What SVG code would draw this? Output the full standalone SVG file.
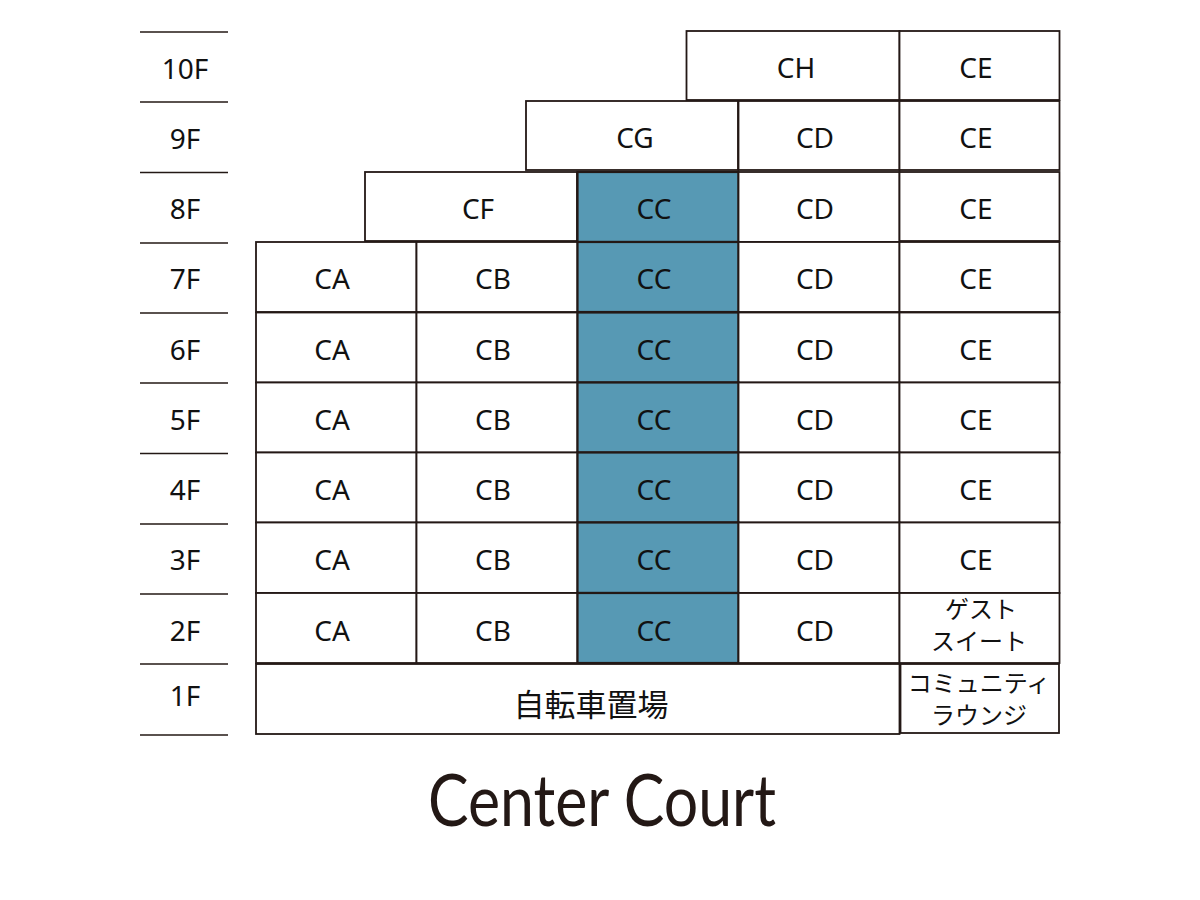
<svg xmlns="http://www.w3.org/2000/svg" width="1200" height="900" viewBox="0 0 1200 900">
<style>
.b{fill:#fff;stroke:#231815;stroke-width:1.8}
.c{fill:#5799b4;stroke:#231815;stroke-width:2.2}
.t{font-family:"Noto Sans","Noto Sans CJK JP",sans-serif;font-size:28px;fill:#111;text-anchor:middle}
.j{font-family:"Noto Sans CJK JP","Noto Sans",sans-serif;font-size:24px;fill:#111;text-anchor:middle}
.fl{stroke:#231815;stroke-width:1.5}
</style>
<rect width="1200" height="900" fill="#fff"/>
<g id="floors">
<g class="fl">
<line x1="140" y1="32" x2="228" y2="32"/><line x1="140" y1="102" x2="228" y2="102"/>
<line x1="140" y1="172.5" x2="228" y2="172.5"/><line x1="140" y1="243" x2="228" y2="243"/>
<line x1="140" y1="313" x2="228" y2="313"/><line x1="140" y1="383" x2="228" y2="383"/>
<line x1="140" y1="453.5" x2="228" y2="453.5"/><line x1="140" y1="524" x2="228" y2="524"/>
<line x1="140" y1="594" x2="228" y2="594"/><line x1="140" y1="664" x2="228" y2="664"/>
<line x1="140" y1="735" x2="228" y2="735"/>
</g>
<text class="t" x="185" y="79">10F</text>
<text class="t" x="185" y="149">9F</text>
<text class="t" x="185" y="219">8F</text>
<text class="t" x="185" y="289">7F</text>
<text class="t" x="185" y="360">6F</text>
<text class="t" x="185" y="430">5F</text>
<text class="t" x="185" y="500">4F</text>
<text class="t" x="185" y="570">3F</text>
<text class="t" x="185" y="641">2F</text>
<text class="t" x="185" y="706">1F</text>
</g>
<g id="f10">
<rect class="b" x="686.5" y="31" width="213" height="69"/><text class="t" x="796" y="78">CH</text>
<rect class="b" x="899.5" y="31" width="160" height="69"/><text class="t" x="976" y="78">CE</text>
</g>
<g id="f9">
<rect class="b" x="526" y="101" width="212" height="69"/><text class="t" x="635" y="148">CG</text>
<rect class="b" x="738.5" y="101" width="161" height="69"/><text class="t" x="815" y="148">CD</text>
<rect class="b" x="899.5" y="101" width="160" height="69"/><text class="t" x="976" y="148">CE</text>
</g>
<g id="f8">
<rect class="b" x="365" y="172" width="212" height="69"/><text class="t" x="478" y="219">CF</text>
<rect class="c" x="577.5" y="172" width="161" height="70"/><text class="t" x="654" y="219">CC</text>
<rect class="b" x="738.5" y="172" width="161" height="70"/><text class="t" x="815" y="219">CD</text>
<rect class="b" x="899.5" y="172" width="160" height="69"/><text class="t" x="976" y="219">CE</text>
</g>
<g id="f7">
<rect class="b" x="256" y="242" width="160.5" height="70"/><text class="t" x="332" y="289">CA</text>
<rect class="b" x="416.5" y="242" width="161" height="70"/><text class="t" x="493" y="289">CB</text>
<rect class="c" x="577.5" y="242" width="161" height="70"/><text class="t" x="654" y="289">CC</text>
<rect class="b" x="738.5" y="242" width="161" height="70"/><text class="t" x="815" y="289">CD</text>
<rect class="b" x="899.5" y="242" width="160" height="70"/><text class="t" x="976" y="289">CE</text>
</g>
<g id="f6">
<rect class="b" x="256" y="312.5" width="160.5" height="70"/><text class="t" x="332" y="360">CA</text>
<rect class="b" x="416.5" y="312.5" width="161" height="70"/><text class="t" x="493" y="360">CB</text>
<rect class="c" x="577.5" y="312.5" width="161" height="70"/><text class="t" x="654" y="360">CC</text>
<rect class="b" x="738.5" y="312.5" width="161" height="70"/><text class="t" x="815" y="360">CD</text>
<rect class="b" x="899.5" y="312.5" width="160" height="70"/><text class="t" x="976" y="360">CE</text>
</g>
<g id="f5">
<rect class="b" x="256" y="382.5" width="160.5" height="70"/><text class="t" x="332" y="430">CA</text>
<rect class="b" x="416.5" y="382.5" width="161" height="70"/><text class="t" x="493" y="430">CB</text>
<rect class="c" x="577.5" y="382.5" width="161" height="70"/><text class="t" x="654" y="430">CC</text>
<rect class="b" x="738.5" y="382.5" width="161" height="70"/><text class="t" x="815" y="430">CD</text>
<rect class="b" x="899.5" y="382.5" width="160" height="70"/><text class="t" x="976" y="430">CE</text>
</g>
<g id="f4">
<rect class="b" x="256" y="452.5" width="160.5" height="70"/><text class="t" x="332" y="500">CA</text>
<rect class="b" x="416.5" y="452.5" width="161" height="70"/><text class="t" x="493" y="500">CB</text>
<rect class="c" x="577.5" y="452.5" width="161" height="70"/><text class="t" x="654" y="500">CC</text>
<rect class="b" x="738.5" y="452.5" width="161" height="70"/><text class="t" x="815" y="500">CD</text>
<rect class="b" x="899.5" y="452.5" width="160" height="70"/><text class="t" x="976" y="500">CE</text>
</g>
<g id="f3">
<rect class="b" x="256" y="522.5" width="160.5" height="70.5"/><text class="t" x="332" y="570">CA</text>
<rect class="b" x="416.5" y="522.5" width="161" height="70.5"/><text class="t" x="493" y="570">CB</text>
<rect class="c" x="577.5" y="522.5" width="161" height="70.5"/><text class="t" x="654" y="570">CC</text>
<rect class="b" x="738.5" y="522.5" width="161" height="70.5"/><text class="t" x="815" y="570">CD</text>
<rect class="b" x="899.5" y="522.5" width="160" height="70.5"/><text class="t" x="976" y="570">CE</text>
</g>
<g id="f2">
<rect class="b" x="256" y="593" width="160.5" height="70"/><text class="t" x="332" y="641">CA</text>
<rect class="b" x="416.5" y="593" width="161" height="70"/><text class="t" x="493" y="641">CB</text>
<rect class="c" x="577.5" y="593" width="161" height="70"/><text class="t" x="654" y="641">CC</text>
<rect class="b" x="738.5" y="593" width="161" height="70"/><text class="t" x="815" y="641">CD</text>
<rect class="b" x="899.5" y="593" width="160" height="70"/>
<text class="j" x="981" y="618">ゲスト</text>
<text class="j" x="979" y="650">スイート</text>
</g>
<g id="f1">
<rect class="b" x="256" y="664" width="643.5" height="70"/>
<text class="j" x="591" y="716" style="font-size:31px">自転車置場</text>
<rect class="b" x="900.5" y="664" width="158.5" height="69"/>
<text class="j" x="979" y="692">コミュニティ</text>
<text class="j" x="979" y="724">ラウンジ</text>
</g>
<g id="connectors"></g>
<text x="602" y="826" textLength="348" lengthAdjust="spacingAndGlyphs" style="font-family:Lato,'Noto Sans',sans-serif;font-size:71px;fill:#231815;text-anchor:middle">Center Court</text>
</svg>
